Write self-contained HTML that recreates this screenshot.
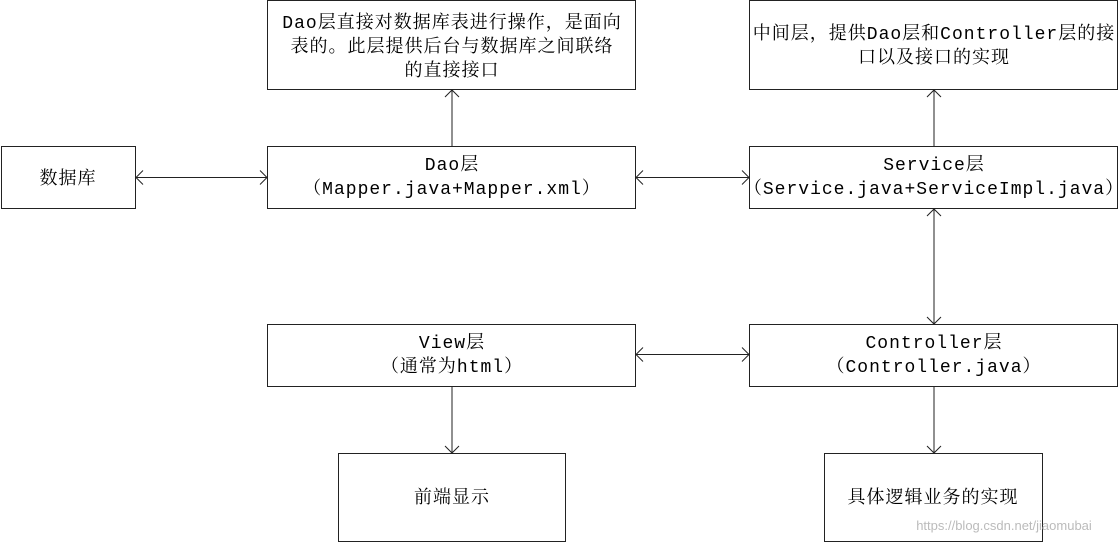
<!DOCTYPE html>
<html><head><meta charset="utf-8"><style>
html,body{margin:0;padding:0;background:#fff;}
svg{display:block;}
text{font-family:"Liberation Mono","Noto Serif CJK SC","Noto Sans CJK SC",monospace;font-size:18px;fill:#000;text-anchor:middle;letter-spacing:1px;}
</style></head><body>
<svg width="1119" height="543" viewBox="0 0 1119 543" xmlns="http://www.w3.org/2000/svg">
<g fill="#fff" stroke="#222" stroke-width="1">
<rect x="267.5" y="0.5" width="368" height="89"/>
<rect x="749.5" y="0.5" width="368" height="89"/>
<rect x="1.5" y="146.5" width="134" height="62"/>
<rect x="267.5" y="146.5" width="368" height="62"/>
<rect x="749.5" y="146.5" width="368" height="62"/>
<rect x="267.5" y="324.5" width="368" height="62"/>
<rect x="749.5" y="324.5" width="368" height="62"/>
<rect x="338.5" y="453.5" width="227" height="88"/>
<rect x="824.5" y="453.5" width="218" height="88"/>
</g>
<g stroke="#222" stroke-width="1" fill="none">
<line x1="452" y1="146" x2="452" y2="90"/><polyline points="445,97 452,90 459,97"/>
<line x1="934" y1="146" x2="934" y2="90"/><polyline points="927,97 934,90 941,97"/>
<line x1="136" y1="177.5" x2="267" y2="177.5"/><polyline points="143,170.5 136,177.5 143,184.5"/><polyline points="260,170.5 267,177.5 260,184.5"/>
<line x1="636" y1="177.5" x2="749" y2="177.5"/><polyline points="643,170.5 636,177.5 643,184.5"/><polyline points="742,170.5 749,177.5 742,184.5"/>
<line x1="934" y1="209" x2="934" y2="324"/><polyline points="927,216 934,209 941,216"/><polyline points="927,317 934,324 941,317"/>
<line x1="636" y1="354.5" x2="749" y2="354.5"/><polyline points="643,347.5 636,354.5 643,361.5"/><polyline points="742,347.5 749,354.5 742,361.5"/>
<line x1="452" y1="387" x2="452" y2="453"/><polyline points="445,446 452,453 459,446"/>
<line x1="934" y1="387" x2="934" y2="453"/><polyline points="927,446 934,453 941,446"/>
</g>
<text x="452" y="28">Dao层直接对数据库表进行操作，是面向</text>
<text x="452" y="52">表的。此层提供后台与数据库之间联络</text>
<text x="452" y="76">的直接接口</text>
<text x="934" y="39">中间层，提供Dao层和Controller层的接</text>
<text x="934" y="63">口以及接口的实现</text>
<text x="68" y="184">数据库</text>
<text x="452" y="170">Dao层</text>
<text x="452" y="194">（Mapper.java+Mapper.xml）</text>
<text x="934" y="170">Service层</text>
<text x="934" y="194">（Service.java+ServiceImpl.java）</text>
<text x="452" y="348">View层</text>
<text x="452" y="372">（通常为html）</text>
<text x="934" y="348">Controller层</text>
<text x="934" y="372">（Controller.java）</text>
<text x="452" y="503">前端显示</text>
<text x="933" y="503">具体逻辑业务的实现</text>
<text x="1004" y="530" style="font-size:13px;fill:#bbb;font-family:'Liberation Sans',sans-serif;letter-spacing:0">https://blog.csdn.net/jiaomubai</text>
</svg>
</body></html>
